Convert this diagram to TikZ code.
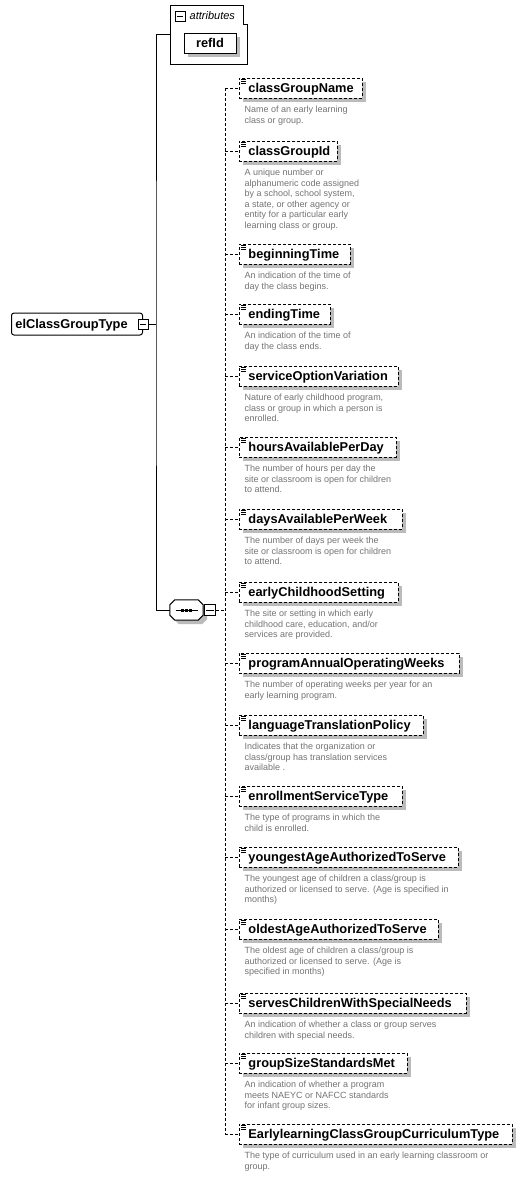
\documentclass[tikz,border=0pt]{standalone}
\usepackage{fontspec}
\setmainfont{Liberation Sans}
\usetikzlibrary{calc}
\definecolor{shadowgray}{HTML}{BBBBBB}
\definecolor{descgray}{HTML}{737373}
\tikzset{
  shadowed/.style={preaction={draw=none,fill=shadowgray,transform canvas={xshift=4pt,yshift=-4pt}}},
  elbox/.style={draw, dash pattern=on 3pt off 2pt, line width=0.9pt, fill=white, shadowed,
    minimum height=20pt, inner xsep=9pt, inner ysep=0pt, anchor=west, align=left,
    text height=9.5pt, text depth=0.5pt, font=\fontsize{12.8}{14}\selectfont\bfseries},
  desc/.style={anchor=north west, inner sep=0pt, align=left, text=descgray,
    font=\fontsize{9}{10.5}\selectfont},
  dl/.style={dash pattern=on 3pt off 2pt, line width=0.9pt},
  sl/.style={line width=1pt},
  minusbox/.style={draw, fill=white, line width=0.9pt, minimum size=10pt, inner sep=0pt},
  iconline/.style={line width=0.7pt},
}
\newcommand{\elem}[5]{%
  \node[elbox, text width=#3pt] (#1) at (239,#2) {#4};
  \draw[iconline] ([xshift=2pt,yshift=-1.7pt]#1.north west) -- ++(5,0);
  \draw[iconline] ([xshift=2pt,yshift=-3.7pt]#1.north west) -- ++(5,0);
  \draw[iconline] ([xshift=2pt,yshift=-5.7pt]#1.north west) -- ++(5,0);
  \node[desc] (#1d) at ([xshift=5.5pt,yshift=-6.5pt]#1.south west) {\strut #5};
}
\newcommand{\minussign}[1]{\draw[line width=0.9pt] ([xshift=2pt]#1.west) -- ([xshift=-2pt]#1.east);}
\begin{document}
\begin{tikzpicture}[x=1pt,y=-1pt]
\useasboundingbox (0,0) rectangle (526,1178);

% attributes group
\draw[sl, fill=white] (170,5) -- (243,5) -- (243,24) -- (247,24) -- (247,64) -- (170,64) -- cycle;
\coordinate (attr) at (170,34.5);
\node[minusbox] (attrm) at (180,16.5) {};
\minussign{attrm}
\node[anchor=west, inner sep=0pt, font=\fontsize{11}{13}\selectfont\itshape] (attrlbl) at (189.5,16) {attributes};
\node[draw, sl, fill=white, shadowed, minimum width=52pt, minimum height=20pt, inner sep=0pt,
  text height=9.5pt, text depth=0.5pt, font=\fontsize{12.8}{14}\selectfont\bfseries] (refid) at (210,43) {refId};

% main element
\node[draw, sl, fill=white, rounded corners=2.5pt, minimum height=22pt, text width=123pt,
  inner xsep=4pt, inner ysep=0pt, align=left, anchor=west, text height=9.5pt, text depth=0.5pt,
  font=\fontsize{12.8}{14}\selectfont\bfseries] (main) at (11,324) {elClassGroupType};
\node[minusbox] (mainm) at (main.east) {};
\minussign{mainm}
\coordinate (spine) at (156,324);

% sequence compositor
\node[minimum width=33pt, minimum height=20pt, inner sep=0pt] (seq) at (186.5,610) {};
\fill[shadowgray, transform canvas={xshift=4pt,yshift=-4pt}]
  ($(seq.north west)+(5,0)$) -- ($(seq.north east)+(-5,0)$) -- ($(seq.north east)+(0,5)$) --
  ($(seq.south east)+(0,-5)$) -- ($(seq.south east)+(-5,0)$) -- ($(seq.south west)+(5,0)$) --
  ($(seq.south west)+(0,-5)$) -- ($(seq.north west)+(0,5)$) -- cycle;
\filldraw[sl, fill=white]
  ($(seq.north west)+(5,0)$) -- ($(seq.north east)+(-5,0)$) -- ($(seq.north east)+(0,5)$) --
  ($(seq.south east)+(0,-5)$) -- ($(seq.south east)+(-5,0)$) -- ($(seq.south west)+(5,0)$) --
  ($(seq.south west)+(0,-5)$) -- ($(seq.north west)+(0,5)$) -- cycle;
\draw[sl] ($(seq.west)+(6,0)$) -- ($(seq.east)+(-5,0)$);
\fill ($(seq.center)+(-5.5,-1.5)$) rectangle +(3,3);
\fill ($(seq.center)+(-1.5,-1.5)$) rectangle +(3,3);
\fill ($(seq.center)+(2.5,-1.5)$) rectangle +(3,3);
\node[minusbox, minimum size=11pt] (seqm) at (210,610) {};
\minussign{seqm}
\coordinate (dv) at (225,610);

% spine connectors
\draw[sl] (mainm.east) -- (spine);
\draw[sl] (attr) -| (spine) |- (seq.west);

% child elements
\elem{e1}{88}{105}{classGroupName}{Name of an early learning\\class or group.}
\elem{e2}{151}{80}{classGroupId}{A unique number or\\alphanumeric code assigned\\by a school, school system,\\a state, or other agency or\\entity for a particular early\\learning class or group.}
\elem{e3}{254}{93}{beginningTime}{An indication of the time of\\day the class begins.}
\elem{e4}{314}{73}{endingTime}{An indication of the time of\\day the class ends.}
\elem{e5}{376}{141}{serviceOptionVariation}{Nature of early childhood program,\\class or group in which a person is\\enrolled.}
\elem{e6}{447}{139}{hoursAvailablePerDay}{The number of hours per day the\\site or classroom is open for children\\to attend.}
\elem{e7}{519}{145}{daysAvailablePerWeek}{The number of days per week the\\site or classroom is open for children\\to attend.}
\elem{e8}{592}{141}{earlyChildhoodSetting}{The site or setting in which early\\childhood care, education, and/or\\services are provided.}
\elem{e9}{663}{202}{programAnnualOperatingWeeks}{The number of operating weeks per year for an\\early learning program.}
\elem{e10}{725}{166}{languageTranslationPolicy}{Indicates that the organization or\\class/group has translation services\\available .}
\elem{e11}{796}{145}{enrollmentServiceType}{The type of programs in which the\\child is enrolled.}
\elem{e12}{857}{201}{youngestAgeAuthorizedToServe}{The youngest age of children a class/group is\\authorized or licensed to serve. (Age is specified in\\months)}
\elem{e13}{929}{181}{oldestAgeAuthorizedToServe}{The oldest age of children a class/group is\\authorized or licensed to serve. (Age is\\specified in months)}
\elem{e14}{1003}{209}{servesChildrenWithSpecialNeeds}{An indication of whether a class or group serves\\children with special needs.}
\elem{e15}{1063}{150}{groupSizeStandardsMet}{An indication of whether a program\\meets NAEYC or NAFCC standards\\for infant group sizes.}
\elem{e16}{1134}{255}{EarlylearningClassGroupCurriculumType}{The type of curriculum used in an early learning classroom or\\group.}

% dashed connectors
\draw[dl] (seqm.east) -- (dv);
\draw[dl] (e1.west -| dv) -- (e16.west -| dv);
\foreach \i in {1,...,16} {\draw[dl] (e\i.west -| dv) -- (e\i.west);}
\end{tikzpicture}
\end{document}
